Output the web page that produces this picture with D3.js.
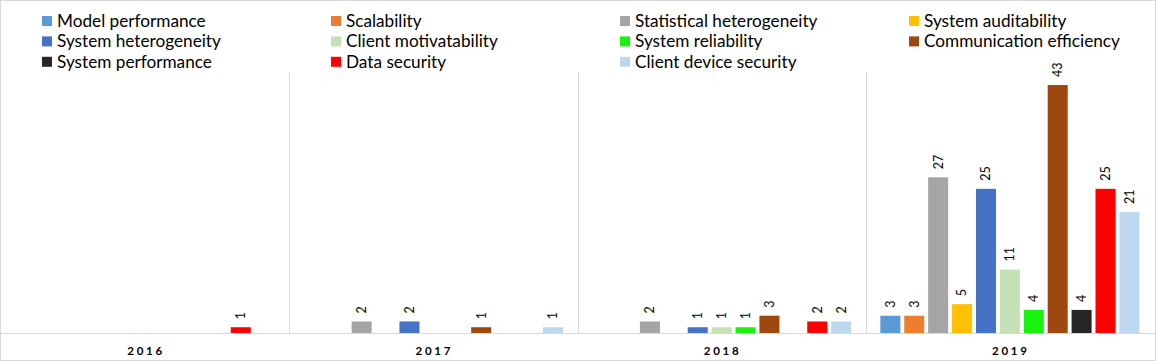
<!DOCTYPE html>
<html lang="en">
  <head>
    <meta charset="UTF-8" />
    <title>Challenges by year</title>
    <style>
      body {
        margin: 0;
        background: #fff;
      }
      svg {
        display: block;
        font-family: Lato, "Open Sans", sans-serif;
      }
    </style>
  </head>
  <body>
    <div id="chart"></div>
    <script src="https://d3js.org/d3.v7.min.js"></script>
    <script>
      // years along the x axis
      const years = ["2016", "2017", "2018", "2019"];

      // series in the order the bars appear in each group
      const series = [
        "Model performance",
        "Scalability",
        "Statistical heterogeneity",
        "System auditability",
        "System heterogeneity",
        "Client motivatability",
        "System reliability",
        "Communication efficiency",
        "System performance",
        "Data security",
        "Client device security",
      ];

      const colors = [
        "#5b9bd5",
        "#ed7d31",
        "#a5a5a5",
        "#ffc000",
        "#4472c4",
        "#c5e0b4",
        "#17f30f",
        "#9e480e",
        "#262626",
        "#ff0000",
        "#bdd7ee",
      ];

      // one row per year, one value per series (0 = no bar)
      const values2016 = [0, 0, 0, 0, 0, 0, 0, 0, 0, 1, 0];
      const values2017 = [0, 0, 2, 0, 2, 0, 0, 1, 0, 0, 1];
      const values2018 = [0, 0, 2, 0, 1, 1, 1, 3, 0, 2, 2];
      const values2019 = [3, 3, 27, 5, 25, 11, 4, 43, 4, 25, 21];
      const valuesByYear = [values2016, values2017, values2018, values2019];

      const width = 1156,
        height = 361;
      const plotLeft = 1,
        plotRight = 1154,
        plotTop = 73.5,
        baseline = 333;

      const svg = d3
        .select("#chart")
        .append("svg")
        .attr("width", width)
        .attr("height", height);

      // outer chart border
      svg
        .append("rect")
        .attr("x", 0.5)
        .attr("y", 0.5)
        .attr("width", width - 1)
        .attr("height", height - 1)
        .attr("fill", "#fff")
        .attr("stroke", "#d9d9d9");

      const x0 = d3
        .scaleBand()
        .domain(years)
        .range([plotLeft, plotRight])
        .padding(0);

      const x1 = d3
        .scaleBand()
        .domain(series)
        .range([0, x0.bandwidth()])
        .paddingInner(0.163)
        .paddingOuter(0.61);

      const y = d3.scaleLinear().domain([0, 45]).range([baseline, plotTop]);

      // group separators
      svg
        .selectAll(".sep")
        .data(years.slice(1))
        .enter()
        .append("line")
        .attr("class", "sep")
        .attr("x1", (d) => Math.round(x0(d)) + 0.5)
        .attr("x2", (d) => Math.round(x0(d)) + 0.5)
        .attr("y1", plotTop - 1)
        .attr("y2", baseline)
        .attr("stroke", "#d9d9d9");

      // bars
      const groups = svg
        .selectAll(".year")
        .data(years)
        .enter()
        .append("g")
        .attr("class", "year")
        .attr("transform", (d) => `translate(${x0(d)},0)`);

      const cells = groups
        .selectAll(".cell")
        .data((d, i) =>
          series
            .map((s, j) => ({ s, j, v: valuesByYear[i][j] }))
            .filter((c) => c.v > 0)
        )
        .enter()
        .append("g")
        .attr("class", "cell");

      cells
        .append("rect")
        .attr("x", (d) => x1(d.s))
        .attr("width", x1.bandwidth())
        .attr("y", (d) => y(d.v))
        .attr("height", (d) => baseline - y(d.v))
        .attr("fill", (d) => colors[d.j]);

      cells
        .append("text")
        .attr(
          "transform",
          (d) =>
            `translate(${x1(d.s) + x1.bandwidth() / 2},${y(d.v) - 8}) rotate(-90)`
        )
        .attr("dy", "0.35em")
        .attr("text-anchor", "start")
        .style("font-size", "12.5px")
        .style("fill", "#000")
        .text((d) => d.v);

      // baseline axis
      svg
        .append("line")
        .attr("x1", plotLeft)
        .attr("x2", plotRight + 1)
        .attr("y1", baseline + 0.5)
        .attr("y2", baseline + 0.5)
        .attr("stroke", "#d9d9d9");

      // year labels
      svg
        .selectAll(".yearLabel")
        .data(years)
        .enter()
        .append("text")
        .attr("class", "yearLabel")
        .attr("x", (d) => x0(d) + x0.bandwidth() / 2 + 1)
        .attr("y", 351)
        .attr("dy", "0.35em")
        .attr("text-anchor", "middle")
        .style("font-size", "11.5px")
        .style("font-weight", "bold")
        .style("letter-spacing", "2.8px")
        .style("fill", "#000")
        .text((d) => d);

      // legend, 4 columns, filled row by row
      const legend = svg
        .selectAll(".legend")
        .data(series)
        .enter()
        .append("g")
        .attr("class", "legend")
        .attr(
          "transform",
          (d, i) => `translate(${42 + (i % 4) * 289},${21 + Math.floor(i / 4) * 20.4})`
        );

      legend
        .append("rect")
        .attr("x", 0)
        .attr("y", -5)
        .attr("width", 10)
        .attr("height", 10)
        .attr("fill", (d, i) => colors[i]);

      legend
        .append("text")
        .attr("x", 15)
        .attr("dy", "0.35em")
        .style("font-size", "17.2px")
        .style("fill", "#000")
        .text((d) => d);
    </script>
  </body>
</html>
